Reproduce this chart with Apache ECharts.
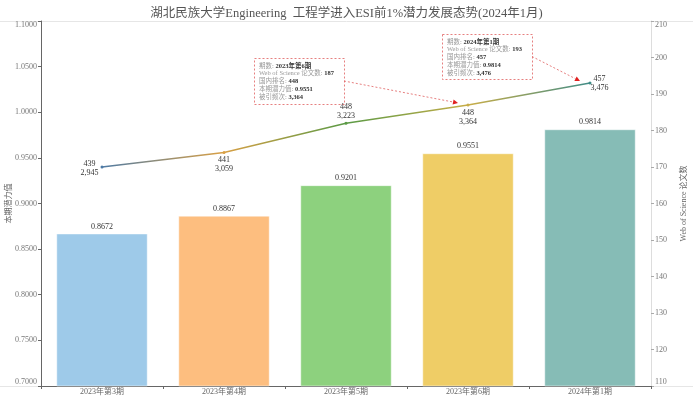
<!DOCTYPE html>
<html>
<head>
<meta charset="utf-8">
<script src="https://cdn.jsdelivr.net/npm/echarts@6/dist/echarts.min.js"></script>
<style>html,body{margin:0;padding:0;background:#fff;}#c{width:693px;height:398px;}</style>
</head>
<body>
<div id="c"></div>
<script>
// ---- data ----
const categories = ['2023年第3期', '2023年第4期', '2023年第5期', '2023年第6期', '2024年第1期'];
const potential = [0.8672, 0.8867, 0.9201, 0.9551, 0.9814];
const wosPapers = [170, 174, 182, 187, 193];
const domesticRank = [439, 441, 448, 448, 457];
const citations = [2945, 3059, 3223, 3364, 3476];
const leftTicks = ['0.7000', '0.7500', '0.8000', '0.8500', '0.9000', '0.9500', '1.0000', '1.0500', '1.1000'];
const rightTicks = [110, 120, 130, 140, 150, 160, 170, 180, 190, 200, 210];
const annotated = [3, 4];

// ---- styles ----
const FONT = "'Liberation Serif', 'Noto Sans CJK SC', serif";
const barColors = ['#9ecae9', '#fdbe7f', '#8dd17e', '#efcd66', '#86bcb6'];
const lineColors = ['#4d7aa6', '#d9a045', '#5a9a45', '#c8ad48', '#3f8c88'];
const labelPos = ['left', 'bottom', 'top', 'bottom', 'right'];
const labelOffset = [[-9, 1], [0, 0], [0, 1], [0, 0], [6, 0]];

const fmt = n => n.toLocaleString('en-US');

const chart = echarts.init(document.getElementById('c'), null, {renderer: 'canvas'});

chart.setOption({
  animation: false,
  backgroundColor: '#fff',
  title: {
    text: '湖北民族大学Engineering  工程学进入ESI前1%潜力发展态势(2024年1月)',
    left: 'center', top: 2,
    textStyle: {fontFamily: FONT, fontSize: 12.5, fontWeight: 'normal', color: '#555'}
  },
  grid: {left: 41, right: 42, top: 21, bottom: 12, containLabel: false, outerBoundsMode: 'none'},
  xAxis: {
    type: 'category',
    data: categories,
    axisLine: {lineStyle: {color: '#666', width: 1}},
    axisTick: {show: true, length: 3, lineStyle: {color: '#666'}},
    axisLabel: {fontFamily: FONT, fontSize: 8, color: '#666', margin: 2}
  },
  yAxis: [{
    type: 'value', min: 0.7, max: 1.1, interval: 0.05,
    name: '本期潜力值', nameLocation: 'middle', nameGap: 28, nameRotate: 90, nameMoveOverlap: false,
    nameTextStyle: {fontFamily: FONT, fontSize: 8, color: '#666'},
    axisLine: {show: true, lineStyle: {color: '#666'}},
    axisTick: {show: true, length: 3, lineStyle: {color: '#666'}},
    splitLine: {show: false},
    axisLabel: {
      fontFamily: FONT, fontSize: 8, color: '#777', margin: 4,
      formatter: (v) => leftTicks[Math.round((v - 0.7) / 0.05)] || v.toFixed(4),
      verticalAlignMinLabel: 'bottom', verticalAlignMaxLabel: 'top'
    }
  }, {
    type: 'value', min: 110, max: 210, interval: 10, position: 'right',
    name: 'Web of Science 论文数', nameLocation: 'middle', nameGap: 29, nameRotate: 90, nameMoveOverlap: false,
    nameTextStyle: {fontFamily: FONT, fontSize: 8, color: '#666'},
    axisLine: {show: true, lineStyle: {color: '#ddd'}},
    axisTick: {show: true, length: 3, lineStyle: {color: '#aaa'}},
    splitLine: {show: false},
    axisLabel: {
      fontFamily: FONT, fontSize: 8, color: '#777', margin: 4,
      formatter: (v) => String(rightTicks[Math.round((v - 110) / 10)] ?? v),
      verticalAlignMinLabel: 'bottom', verticalAlignMaxLabel: 'top'
    }
  }],
  series: [{
    type: 'bar',
    yAxisIndex: 0,
    barCategoryGap: '25%',
    data: potential.map((v, i) => ({
      value: v,
      itemStyle: {color: barColors[i], borderColor: 'rgba(255,255,255,0.5)', borderWidth: 1}
    })),
    label: {
      show: true, position: 'top', distance: 3,
      fontFamily: FONT, fontSize: 8, color: '#333',
      formatter: p => p.value.toFixed(4)
    }
  }, {
    type: 'line',
    yAxisIndex: 1,
    z: 5,
    symbol: 'circle', symbolSize: 3,
    lineStyle: {
      width: 1.5,
      color: new echarts.graphic.LinearGradient(0, 0, 1, 0, lineColors.map((c, i) => ({offset: i / (lineColors.length - 1), color: c})))
    },
    data: wosPapers.map((v, i) => ({
      value: v,
      itemStyle: {color: lineColors[i]},
      label: {
        show: true, position: labelPos[i], offset: labelOffset[i], distance: 2,
        fontFamily: FONT, fontSize: 8, color: '#333', lineHeight: 9, align: 'center',
        formatter: () => domesticRank[i] + '\n' + fmt(citations[i])
      }
    }))
  }]
});

// ---- annotation callouts ----
const boxes = [
  {idx: annotated[0], x: 254, y: 58, w: 90, h: 46},
  {idx: annotated[1], x: 442, y: 34, w: 90, h: 45}
];
const graphics = [
  {type: 'line', shape: {x1: 0, y1: 21.5, x2: 693, y2: 21.5}, style: {stroke: '#e6e6e6', lineWidth: 1}, z: 0},
  {type: 'line', shape: {x1: 0, y1: 386.5, x2: 41, y2: 386.5}, style: {stroke: '#e6e6e6', lineWidth: 1}, z: 0},
  {type: 'line', shape: {x1: 651, y1: 386.5, x2: 693, y2: 386.5}, style: {stroke: '#e6e6e6', lineWidth: 1}, z: 0}
];
boxes.forEach(b => {
  const i = b.idx;
  const pt = chart.convertToPixel({seriesIndex: 1}, [i, wosPapers[i]]);
  const sx = b.x + b.w, sy = b.y + b.h / 2;
  const ex = pt[0] - 10, ey = pt[1] - 2;
  const ang = Math.atan2(ey - sy, ex - sx);
  const L = 5, W = 2.6;
  const bx = ex - L * Math.cos(ang), by = ey - L * Math.sin(ang);
  const px = -Math.sin(ang) * W, py = Math.cos(ang) * W;
  graphics.push({
    type: 'rect', z: 20,
    shape: {x: b.x + 0.5, y: b.y + 0.5, width: b.w, height: b.h},
    style: {fill: 'none', stroke: '#e06060', lineWidth: 0.8, lineDash: [2, 2]}
  });
  graphics.push({
    type: 'text', z: 21, x: b.x + 5, y: b.y + 4,
    style: {
      text: '{k|期数: }{v|' + categories[i] + '}\n' +
            '{k|Web of Science 论文数: }{v|' + wosPapers[i] + '}\n' +
            '{k|国内排名: }{v|' + domesticRank[i] + '}\n' +
            '{k|本期潜力值: }{v|' + potential[i].toFixed(4) + '}\n' +
            '{k|被引频次: }{v|' + fmt(citations[i]) + '}',
      fontFamily: FONT, fontSize: 6.5,
      rich: {
        k: {fontFamily: FONT, fontSize: 6.5, fill: '#999', lineHeight: 7.8},
        v: {fontFamily: FONT, fontSize: 6.5, fill: '#333', fontWeight: 'bold', lineHeight: 7.8}
      }
    }
  });
  graphics.push({
    type: 'line', z: 20,
    shape: {x1: sx, y1: sy, x2: bx, y2: by},
    style: {stroke: '#e06060', lineWidth: 0.8, lineDash: [2, 2]}
  });
  graphics.push({
    type: 'polygon', z: 20,
    shape: {points: [[ex, ey], [bx + px, by + py], [bx - px, by - py]]},
    style: {fill: '#e02020'}
  });
});
chart.setOption({graphic: graphics});
</script>
</body>
</html>
